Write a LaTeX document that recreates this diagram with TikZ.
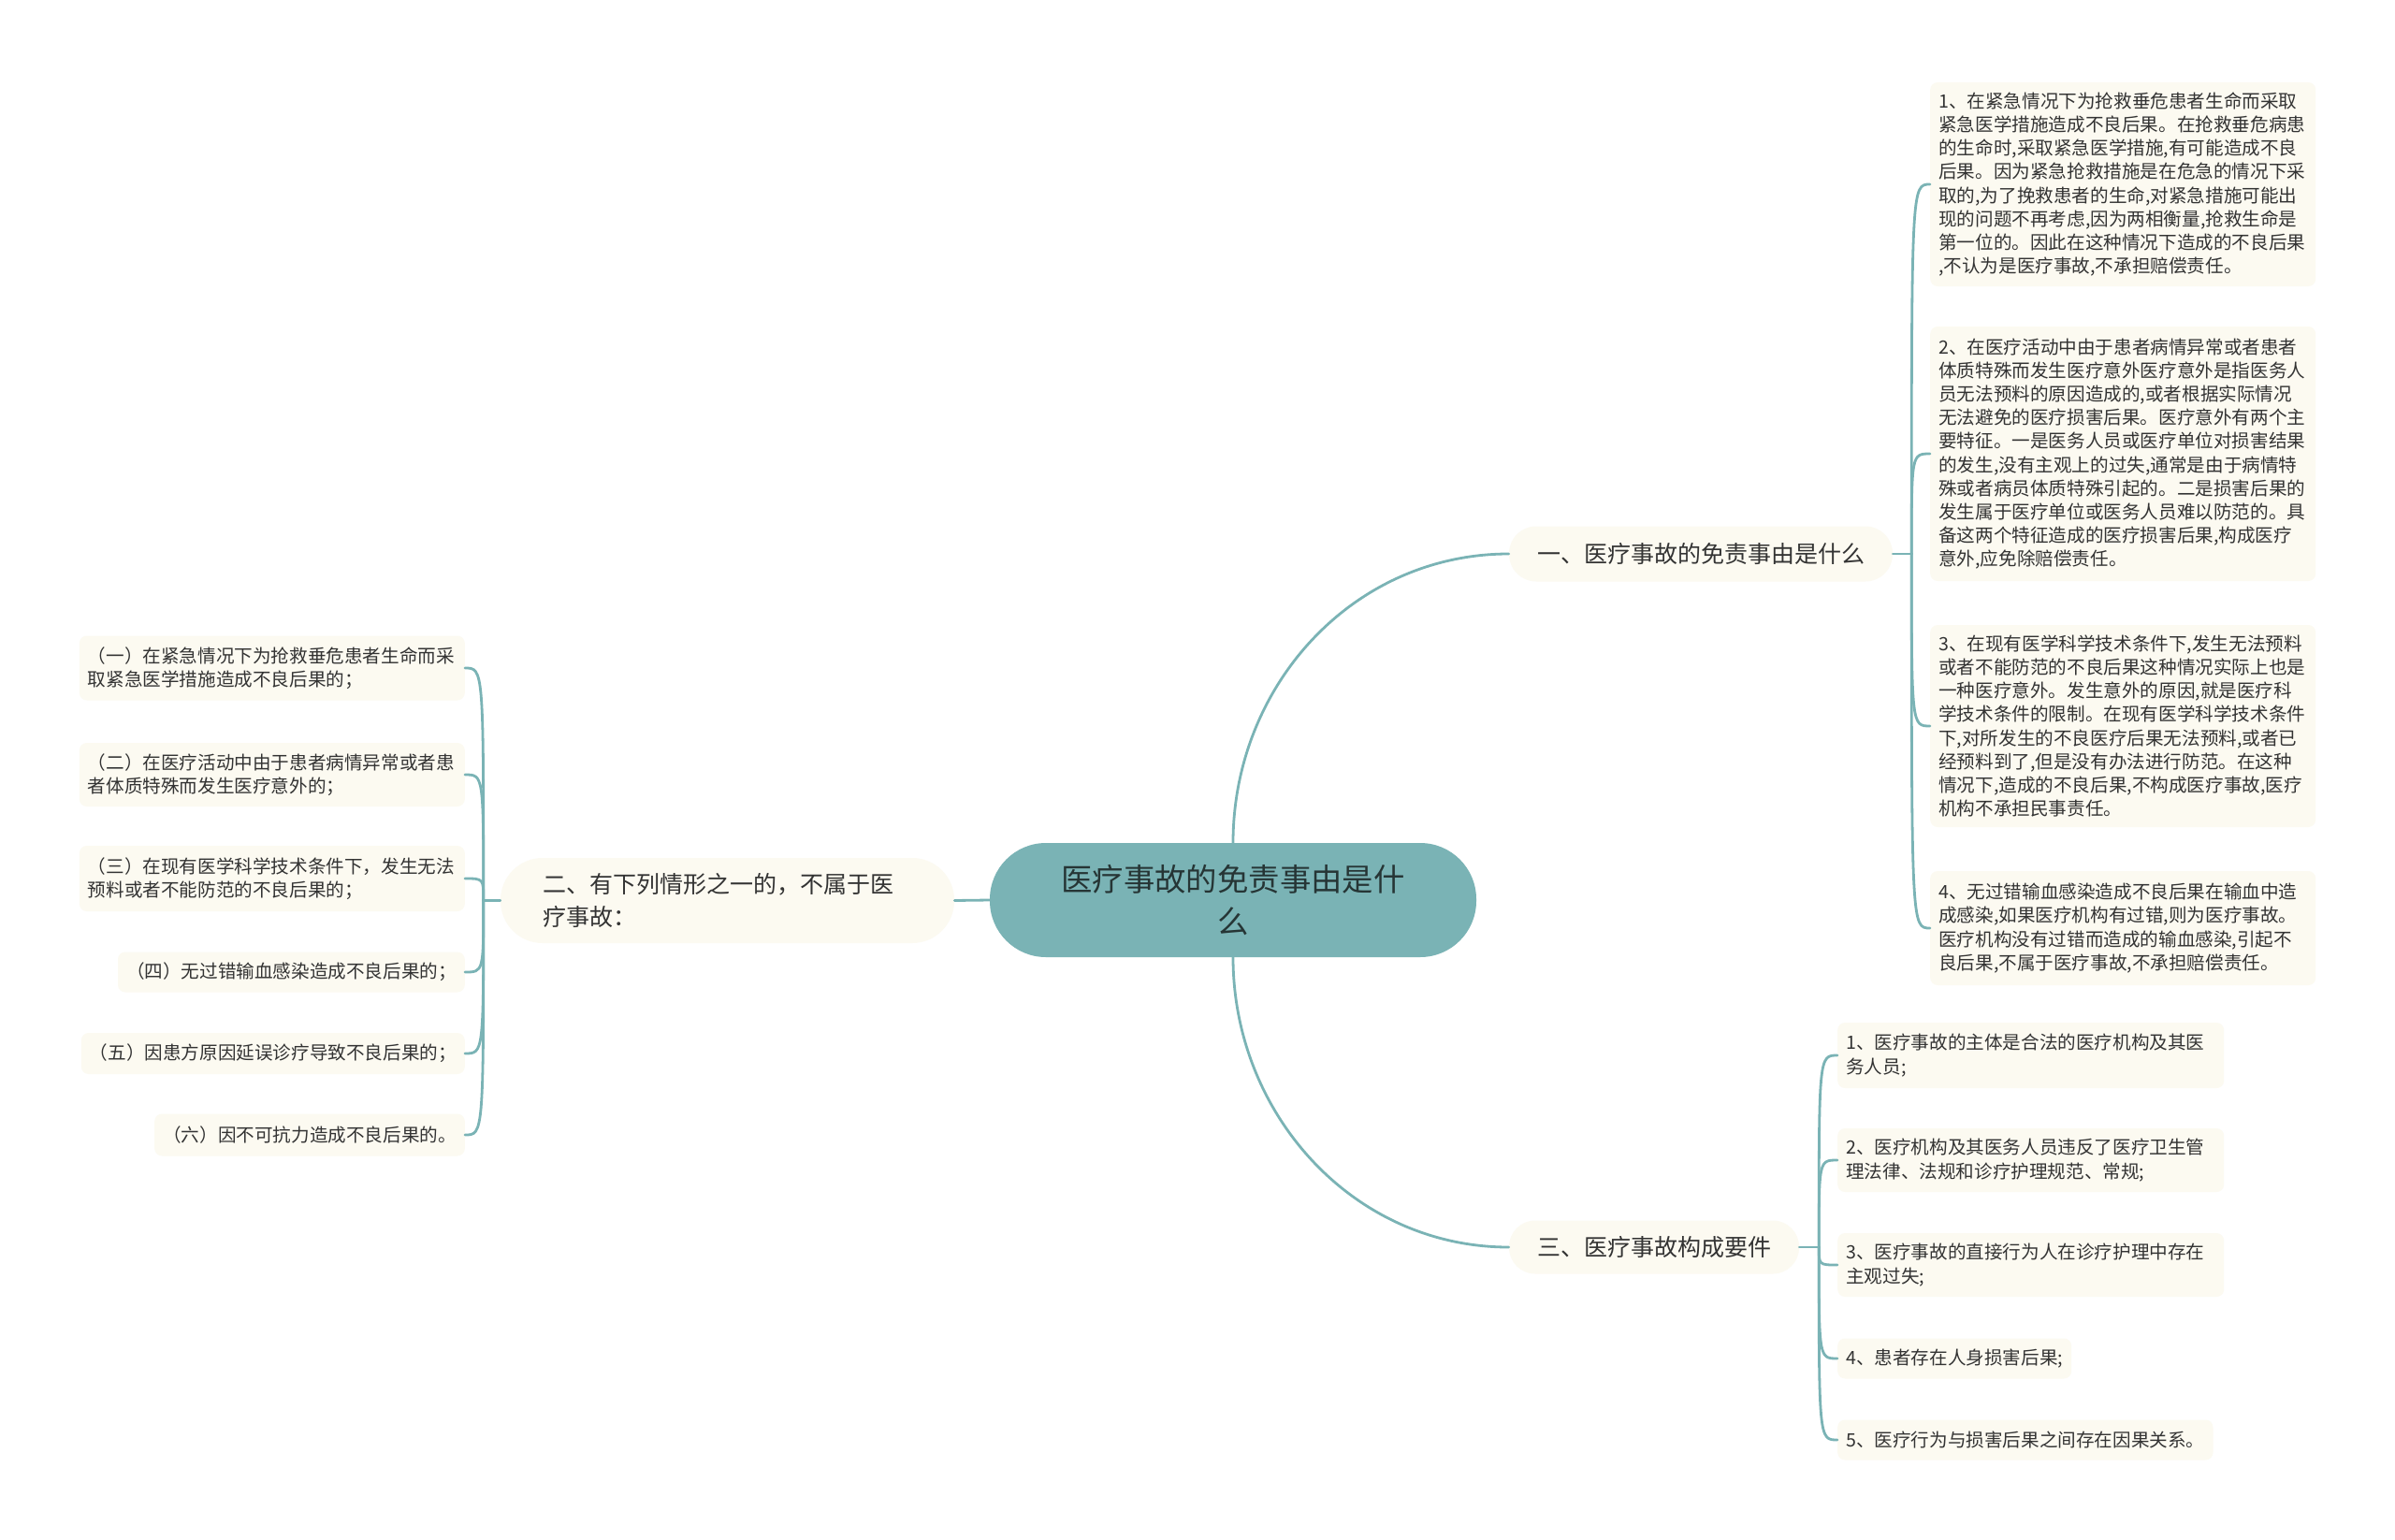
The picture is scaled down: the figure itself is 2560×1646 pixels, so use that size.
\documentclass[tikz,border=0pt]{standalone}
\usepackage{fontspec}
\setmainfont{Noto Sans CJK SC}
\definecolor{teal1}{HTML}{7AB3B5}
\definecolor{cream}{HTML}{FCFAF1}
\definecolor{txt}{HTML}{333333}
\definecolor{roottxt}{HTML}{263535}
\begin{document}
\begin{tikzpicture}[x=1pt,y=-1pt,
  edge/.style={draw=teal1,line width=2.8pt,line cap=round},
  leaf/.style={fill=cream,rounded corners=8pt,inner xsep=9pt,inner ysep=0pt,text=txt,
    font=\fontsize{19.6}{25.2}\selectfont,align=left},
  topic/.style={fill=cream,text=txt,font=\fontsize{25}{35}\selectfont,inner ysep=0pt}]

\fill[white] (0,0) rectangle (2560,1646);
\useasboundingbox (0,0) rectangle (2560,1646);

% root
\node[fill=teal1,rounded corners=60pt,minimum width=520pt,minimum height=122pt,
  text=roottxt,font=\fontsize{33.4}{45}\selectfont,align=center] (root) at (1318,962)
  {医疗事故的免责事由是什\\么};

% level 1
\node[topic,rounded corners=29pt,minimum width=410pt,minimum height=59pt] (one) at (1818,592)
  {一、医疗事故的免责事由是什么};
\node[topic,rounded corners=45pt,minimum height=91pt,text width=395pt,inner xsep=45pt,align=left] (two) at (777.5,962.5)
  {二、有下列情形之一的，不属于医\\疗事故：};
\node[topic,rounded corners=28pt,minimum width=310pt,minimum height=57pt] (three) at (1768,1333)
  {三、医疗事故构成要件};

% right top leaves
\node[leaf,anchor=west,text width=394pt,minimum height=218pt] (r1) at (2063,197)
  {1、在紧急情况下为抢救垂危患者生命而采取\\紧急医学措施造成不良后果。在抢救垂危病患\\的生命时,采取紧急医学措施,有可能造成不良\\后果。因为紧急抢救措施是在危急的情况下采\\取的,为了挽救患者的生命,对紧急措施可能出\\现的问题不再考虑,因为两相衡量,抢救生命是\\第一位的。因此在这种情况下造成的不良后果\\,不认为是医疗事故,不承担赔偿责任。};
\node[leaf,anchor=west,text width=394pt,minimum height=272pt] (r2) at (2063,485)
  {2、在医疗活动中由于患者病情异常或者患者\\体质特殊而发生医疗意外医疗意外是指医务人\\员无法预料的原因造成的,或者根据实际情况\\无法避免的医疗损害后果。医疗意外有两个主\\要特征。一是医务人员或医疗单位对损害结果\\的发生,没有主观上的过失,通常是由于病情特\\殊或者病员体质特殊引起的。二是损害后果的\\发生属于医疗单位或医务人员难以防范的。具\\备这两个特征造成的医疗损害后果,构成医疗\\意外,应免除赔偿责任。};
\node[leaf,anchor=west,text width=394pt,minimum height=216pt] (r3) at (2063,776)
  {3、在现有医学科学技术条件下,发生无法预料\\或者不能防范的不良后果这种情况实际上也是\\一种医疗意外。发生意外的原因,就是医疗科\\学技术条件的限制。在现有医学科学技术条件\\下,对所发生的不良医疗后果无法预料,或者已\\经预料到了,但是没有办法进行防范。在这种\\情况下,造成的不良后果,不构成医疗事故,医疗\\机构不承担民事责任。};
\node[leaf,anchor=west,text width=394pt,minimum height=122pt] (r4) at (2063,992)
  {4、无过错输血感染造成不良后果在输血中造\\成感染,如果医疗机构有过错,则为医疗事故。\\医疗机构没有过错而造成的输血感染,引起不\\良后果,不属于医疗事故,不承担赔偿责任。};

% right bottom leaves
\node[leaf,anchor=west,text width=395pt,minimum height=70pt] (s1) at (1964,1128)
  {1、医疗事故的主体是合法的医疗机构及其医\\务人员;};
\node[leaf,anchor=west,text width=395pt,minimum height=68pt] (s2) at (1964,1240)
  {2、医疗机构及其医务人员违反了医疗卫生管\\理法律、法规和诊疗护理规范、常规;};
\node[leaf,anchor=west,text width=395pt,minimum height=68pt] (s3) at (1964,1352)
  {3、医疗事故的直接行为人在诊疗护理中存在\\主观过失;};
\node[leaf,anchor=west,minimum height=43pt] (s4) at (1964,1452)
  {4、患者存在人身损害后果;};
\node[leaf,anchor=west,minimum height=43pt] (s5) at (1964,1539)
  {5、医疗行为与损害后果之间存在因果关系。};

% left leaves
\node[leaf,anchor=east,text width=394pt,minimum height=69pt] (l1) at (497,714)
  {（一）在紧急情况下为抢救垂危患者生命而采\\取紧急医学措施造成不良后果的；};
\node[leaf,anchor=east,text width=394pt,minimum height=68pt] (l2) at (497,828)
  {（二）在医疗活动中由于患者病情异常或者患\\者体质特殊而发生医疗意外的；};
\node[leaf,anchor=east,text width=394pt,minimum height=70pt] (l3) at (497,939)
  {（三）在现有医学科学技术条件下，发生无法\\预料或者不能防范的不良后果的；};
\node[leaf,anchor=east,minimum height=43pt] (l4) at (497,1039)
  {（四）无过错输血感染造成不良后果的；};
\node[leaf,anchor=east,minimum height=44pt] (l5) at (497,1126)
  {（五）因患方原因延误诊疗导致不良后果的；};
\node[leaf,anchor=east,minimum height=45pt] (l6) at (497,1213)
  {（六）因不可抗力造成不良后果的。};

% level-1 edges
\draw[edge] (root.north) to[out=90,in=180] (one.west);
\draw[edge] (root.west) -- (two.east);
\draw[edge] (root.south) to[out=-90,in=180] (three.west);

% brackets
\draw[edge] (one.east) -- ++(20,0) coordinate (bo);
\foreach \c in {r1,r2,r3,r4}
  \draw[edge] (bo) .. controls (bo |- \c.west) and (bo |- \c.west) .. (\c.west);

\draw[edge] (three.east) -- ++(21,0) coordinate (bt);
\foreach \c in {s1,s2,s3,s4,s5}
  \draw[edge] (bt) .. controls (bt |- \c.west) and (bt |- \c.west) .. (\c.west);

\draw[edge] (two.west) -- ++(-18,0) coordinate (bw);
\foreach \c in {l1,l2,l3,l4,l5,l6}
  \draw[edge] (bw) .. controls (bw |- \c.east) and (bw |- \c.east) .. (\c.east);
\end{tikzpicture}
\end{document}
